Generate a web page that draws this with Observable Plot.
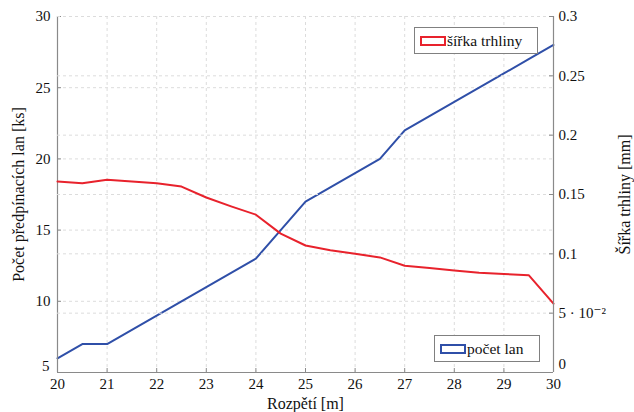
<!DOCTYPE html>
<html>
<head>
<meta charset="utf-8">
<script src="https://cdn.jsdelivr.net/npm/d3@7"></script>
<script src="https://cdn.jsdelivr.net/npm/@observablehq/plot@0.6"></script>
<style>
  html, body { margin: 0; padding: 0; background: white; }
  #wrap { position: relative; width: 634px; height: 412px; font-family: 'Liberation Serif', 'DejaVu Serif', serif; }
  #wrap svg { position: absolute; left: 0; top: 0; }
  #wrap svg text { font-family: 'Liberation Serif', 'DejaVu Serif', serif; }
  .leg { position: absolute; background: white; border: 1px solid #808080; box-sizing: border-box;
         font-family: 'Liberation Serif', 'DejaVu Serif', serif; font-size: 15.5px; color: #111; white-space: nowrap; }
  .sw { position: absolute; box-sizing: border-box; width: 26px; height: 10px; background: white; }
  .lt { position: absolute; }
</style>
</head>
<body>
<div id="wrap"></div>
<script>
// ---- data ----
const spans = [20, 20.5, 21, 21.5, 22, 22.5, 23, 23.5, 24, 24.5, 25, 25.5, 26, 26.5, 27, 27.5, 28, 28.5, 29, 29.5, 30];
const cableCount = [6, 7, 7, 8, 9, 10, 11, 12, 13, 15, 17, 18, 19, 20, 22, 23, 24, 25, 26, 27, 28];
const crackWidth = [0.161, 0.1595, 0.1625, 0.161, 0.1595, 0.1567, 0.1475, 0.140, 0.133, 0.117, 0.107, 0.103, 0.100, 0.097, 0.090, 0.088, 0.086, 0.084, 0.083, 0.082, 0.058];
const xTicks = [20, 21, 22, 23, 24, 25, 26, 27, 28, 29, 30];
const leftTicks = [5, 10, 15, 20, 25, 30];
const rightTicks = [0, 0.05, 0.1, 0.15, 0.2, 0.25, 0.3];
const rightTickLabels = ["0", "5 · 10⁻²", "0.1", "0.15", "0.2", "0.25", "0.3"];
const xLabel = "Rozpětí [m]";
const leftLabel = "Počet předpínacích lan [ks]";
const rightLabel = "Šířka trhliny [mm]";
const legendCount = "počet lan";
const legendCrack = "šířka trhliny";

const blueData = spans.map((x, i) => ({x, v: cableCount[i]}));
const redData = spans.map((x, i) => ({x, v: crackWidth[i]}));

const W = 634, H = 412;
const M = {top: 16, right: 81, bottom: 40, left: 57};
const PW = W - M.left - M.right, PH = H - M.top - M.bottom;
const gridC = "#dcdcdc", axisC = "#8a8a8a";
const FONT = "'Liberation Serif', 'DejaVu Serif', serif";
const BLUE = "#2f4fa8", RED = "#e8222c";
const inner = xTicks.slice(1, -1);

const common = {
  width: W, height: H,
  marginTop: M.top, marginRight: M.right, marginBottom: M.bottom, marginLeft: M.left,
};

const p1 = Plot.plot({
  ...common,
  style: {fontFamily: FONT, fontSize: "15px", background: "white", color: "#111", overflow: "visible"},
  x: {domain: [20, 30]},
  y: {domain: [5, 30]},
  marks: [
    Plot.ruleX(inner, {stroke: gridC, strokeDasharray: "3,3"}),
    Plot.ruleY(leftTicks.slice(1), {stroke: gridC, strokeDasharray: "3,3"}),
    Plot.line(blueData, {x: "x", y: "v", stroke: BLUE, strokeWidth: 2}),
    Plot.ruleX([20], {stroke: axisC, strokeWidth: 1.2}),
    Plot.ruleY([5], {stroke: axisC, strokeWidth: 1.2}),
    Plot.tickY(leftTicks, {y: d => d, stroke: axisC, insetRight: PW - 4}),
    Plot.tickX(xTicks, {x: d => d, stroke: axisC, insetTop: PH - 4}),
    Plot.axisY(leftTicks.slice(1), {anchor: "left", tickSize: 0, tickPadding: 7, label: null, fontSize: 15}),
    Plot.axisY([5], {anchor: "left", tickSize: 0, tickPadding: 8, dy: -6, label: null, fontSize: 15}),
    Plot.axisX(xTicks, {anchor: "bottom", tickSize: 0, tickPadding: 6, label: null, fontSize: 15}),
    Plot.text([xLabel], {text: d => d, frameAnchor: "bottom", lineAnchor: "middle", textAnchor: "middle", dy: 31, fontSize: 16}),
    Plot.text([leftLabel], {text: d => d, frameAnchor: "left", textAnchor: "middle", lineAnchor: "middle", rotate: -90, dx: -39, fontSize: 16}),
  ]
});

const p2 = Plot.plot({
  ...common,
  style: {fontFamily: FONT, fontSize: "15px", background: "transparent", color: "#111", overflow: "visible"},
  x: {domain: [20, 30], axis: null},
  y: {domain: [0, 0.3]},
  marks: [
    Plot.ruleY(rightTicks.slice(1), {stroke: gridC, strokeDasharray: "3,3"}),
    Plot.line(redData, {x: "x", y: "v", stroke: RED, strokeWidth: 2}),
    Plot.ruleX([30], {stroke: axisC, strokeWidth: 1.2}),
    Plot.tickY(rightTicks, {y: d => d, stroke: axisC, insetLeft: PW - 4}),
    Plot.axisY(rightTicks.slice(1), {anchor: "right", tickSize: 0, tickPadding: 5, label: null, fontSize: 15,
      tickFormat: d => rightTickLabels[rightTicks.indexOf(d)]}),
    Plot.axisY([0], {anchor: "right", tickSize: 0, tickPadding: 5, dy: -8, label: null, fontSize: 15,
      tickFormat: d => rightTickLabels[rightTicks.indexOf(d)]}),
    Plot.text([rightLabel], {text: d => d, frameAnchor: "right", textAnchor: "middle", lineAnchor: "middle", rotate: -90, dx: 71, fontSize: 16}),
  ]
});

const wrap = document.getElementById("wrap");
wrap.appendChild(p1);
wrap.appendChild(p2);

function legend(left, top, w, h, color, label) {
  const d = document.createElement("div");
  d.className = "leg";
  Object.assign(d.style, {left: left + "px", top: top + "px", width: w + "px", height: h + "px"});
  const s = document.createElement("div");
  s.className = "sw";
  Object.assign(s.style, {left: "5px", top: (h / 2 - 6) + "px", border: "2px solid " + color});
  const t = document.createElement("div");
  t.className = "lt";
  Object.assign(t.style, {left: "32px", top: (h / 2 - 10) + "px", lineHeight: "18px"});
  t.textContent = label;
  d.appendChild(s); d.appendChild(t);
  wrap.appendChild(d);
}
legend(414, 27, 124, 27, RED, legendCrack);
legend(434, 335, 106, 27, BLUE, legendCount);
</script>
</body>
</html>
